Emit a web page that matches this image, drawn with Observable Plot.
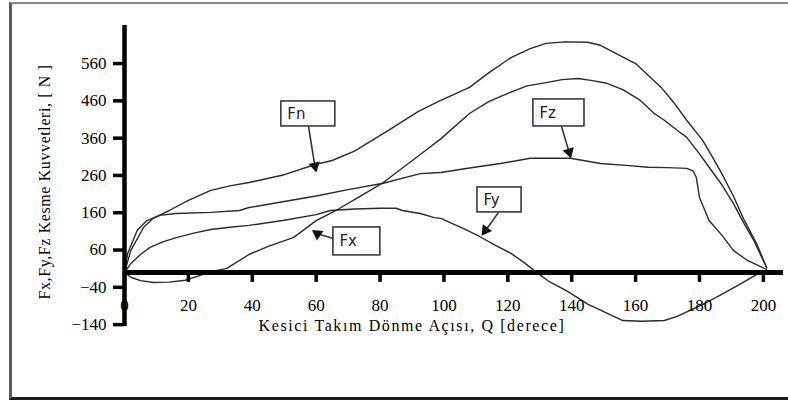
<!DOCTYPE html>
<html><head><meta charset="utf-8">
<script src="https://cdn.jsdelivr.net/npm/d3@7"></script>
<script src="https://cdn.jsdelivr.net/npm/@observablehq/plot@0.6"></script>
<style>
body{margin:0;background:#fff;}
#wrap{position:relative;width:788px;height:401px;overflow:hidden;background:#fff;}
#border{position:absolute;left:9px;top:2px;width:800px;height:393px;border-top:2px solid #8a8a8a;border-left:3px solid #5a5a5a;border-bottom:3px solid #1a1a1a;pointer-events:none;}
</style></head><body><div id="wrap"><div id="chart"></div><div id="border"></div></div>
<script>
// ---- data (angle in degrees, force in N) ----
const angleFn = [0,2,6,9,14,20,27,33,39,50,60,65,72,83,92,99,108,114,121,127,132,138,145,149,155,160,168,172,176,181,183.4,187,190.6,194,198,201];
const valueFn = [0,59,121,145,166,193,220,232,241,262,290,300,325,383,432,461,496,535,576,600,614,618,617,609,582,560,496,455,408,354,319,265,205,140,75,13];

const angleFx = [0,2,5,9,14,19,23,27,32,39,45,53,60,67,74,81,87,93,99,108,114,120,126,132,137,142,146,151,156,161.5,166,169,173,176,180,183,187,190.6,194,197,201];
const valueFx = [0,-13,-22,-27,-26,-21,-10,2,11,48,70,94,139,170,205,241,280,319,358,426,458,480,500,509,517,520,515,507,490,461,425,408,381,362,318,282,235,185,130,86,13];

const angleFz = [0,1,4,7,11,16,27,36,39,50,60,70,81,92.6,99,108,117.7,127,135,139.6,149,157,164,170,176,178,179,180,181.5,183,187,190.6,195,198,201];
const valueFz = [0,51,113,139,153,158,161,166,174,190,205,222,239,265,268,280,292,306,306,306,292,287,282,281,279,272,255,201,170,139,100,59,32,20,8];

const angleFy = [0,2,5,8,12,16.5,22,27,33,39,50,60,64.5,72,80,85,87,92.6,97,99,106,111,116,121,125,129,133,138.6,145,150,156,162,169,173,177,182,187.5,193,200];
const valueFy = [0,24,48,67,82,94,106,115,121,126,140,155,166,170,172,172,166,158,147,145,118,97,73,51,27,0,-25,-50,-85,-105,-129,-131,-129,-118,-102,-82,-56,-30,5];

const seriesNames = ["Fn","Fx","Fz","Fy"];
const xTicks = [0,20,40,60,80,100,120,140,160,180,200];
const yTicks = [-140,-40,60,160,260,360,460,560];
const xTitle = "Kesici Takım Dönme Açısı, Q [derece]";
const yTitle = "Fx,Fy,Fz Kesme Kuvvetleri, [ N ]";

// annotation call-outs (data units): box, arrow start, arrow head
const annLabels = ["Fn","Fz","Fx","Fy"];
const annBoxX1 = [49.1,128.0,65.4,110.5];
const annBoxX2 = [66.0,144.0,80.1,124.3];
const annBoxY1 = [391.4,391.4,45.6,160.9];
const annBoxY2 = [458.4,463.8,120.6,227.9];
const annFromX = [57.6,136.8,65.4,117.1];
const annFromY = [391.4,391.4,91,160.9];
const annHeadX = [59.6,139.2,60.4,113.0];
const annHeadY = [285,322.5,103.5,112.6];
const annAngle = [167.5,163.6,185,216];

// ---- build tables ----
const lists = {Fn:[angleFn,valueFn], Fx:[angleFx,valueFx], Fz:[angleFz,valueFz], Fy:[angleFy,valueFy]};
const rows = [];
for (const name of seriesNames) {
  const [a, v] = lists[name];
  a.forEach((ang, i) => rows.push({series: name, angle: ang, force: v[i]}));
}
const ann = annLabels.map((label, i) => ({
  label, x1: annBoxX1[i], x2: annBoxX2[i], y1: annBoxY1[i], y2: annBoxY2[i],
  ty: (annBoxY1[i] + annBoxY2[i]) / 2,
  fx: annFromX[i], fy: annFromY[i], hx: annHeadX[i], hy: annHeadY[i], angle: annAngle[i]
}));

const W = 788, H = 401, mL = 124, mR = 5, mT = 25, mB = 75;
const yDomain = [-145, 662];
const pxPerUnit = (H - mT - mB) / (yDomain[1] - yDomain[0]);
const xTickLen = 10 / pxPerUnit;
const serif = "'Liberation Serif', 'Times New Roman', serif";
const sans = "'DejaVu Sans', 'Liberation Sans', sans-serif";

const plot = Plot.plot({
  width: W, height: H,
  marginLeft: mL, marginRight: mR, marginTop: mT, marginBottom: mB,
  style: {background: "transparent", fontFamily: serif, color: "#000"},
  x: {domain: [0, 206.3], axis: null, label: null},
  y: {domain: yDomain, axis: null, label: null},
  marks: [
    Plot.line(rows, {x: "angle", y: "force", z: "series", stroke: "#2a2a2a", strokeWidth: 1.4, curve: "linear"}),
    Plot.ruleX([0], {stroke: "#000", strokeWidth: 4.5}),
    Plot.ruleY([0], {stroke: "#000", strokeWidth: 5}),
    Plot.axisY(yTicks, {anchor: "left", tickSize: 11, tickPadding: 7, stroke: "#000", strokeWidth: 3.5, fontSize: 17, fontFamily: serif, label: null}),
    Plot.ruleX(xTicks, {x: d => d, y1: 0, y2: -xTickLen, stroke: "#000", strokeWidth: 3.5}),
    Plot.text(xTicks, {x: d => d, y: 0, dy: 33, text: d => String(d), fontSize: 17, fontFamily: serif, fill: "#000"}),
    Plot.text([xTitle], {frameAnchor: "bottom", textAnchor: "middle", dx: -42, dy: -1, lineAnchor: "middle", fontSize: 16, fontFamily: serif, fill: "#000"}),
    Plot.text([yTitle], {frameAnchor: "left", textAnchor: "middle", dx: -80, dy: 6, rotate: -90, lineAnchor: "middle", fontSize: 16, fontFamily: serif, fill: "#000"}),
    Plot.rect(ann, {x1: "x1", x2: "x2", y1: "y1", y2: "y2", fill: "#fff", stroke: "#3a3a3a", strokeWidth: 1.6}),
    Plot.text(ann, {x: "x1", y: "ty", text: "label", textAnchor: "start", dx: 6, fontSize: 15, fontFamily: sans, fill: "#222"}),
    Plot.link(ann, {x1: "fx", y1: "fy", x2: "hx", y2: "hy", stroke: "#333", strokeWidth: 1.6}),
    Plot.dot(ann, {x: "hx", y: "hy", symbol: "triangle2", r: 5.5, fill: "#111", stroke: "none", rotate: "angle"})
  ]
});
document.getElementById("chart").appendChild(plot);
plot.querySelectorAll("text").forEach(t => {
  if (t.textContent === xTitle) t.setAttribute("letter-spacing", "1.6");
  if (t.textContent === yTitle) t.setAttribute("letter-spacing", "0.6");
});
</script></body></html>
